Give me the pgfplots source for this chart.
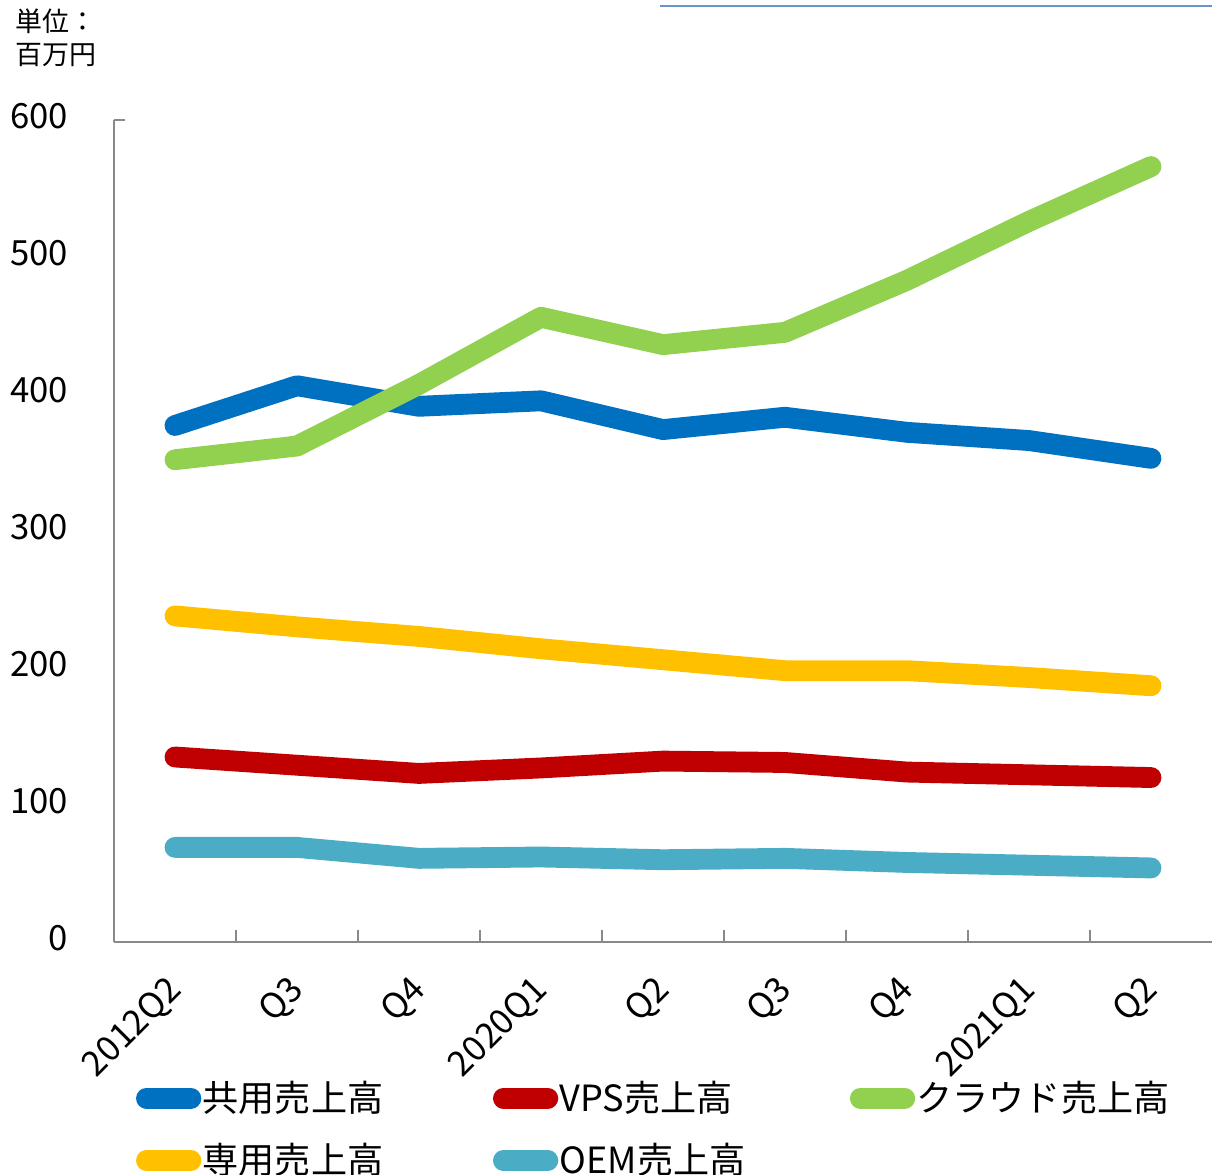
\documentclass[border=0pt]{standalone}
\usepackage{fontspec}
\setmainfont{Noto Sans CJK JP}
\usepackage{pgfplots}
\pgfplotsset{compat=1.18}
\definecolor{cBlue}{HTML}{0070C0}
\definecolor{cRed}{HTML}{C00000}
\definecolor{cGreen}{HTML}{92D050}
\definecolor{cYellow}{HTML}{FFC000}
\definecolor{cTeal}{HTML}{4BACC6}
\definecolor{cAxis}{HTML}{898989}
\definecolor{cDeco}{HTML}{6A93C6}
\begin{document}
\begin{tikzpicture}
\begin{axis}[
  name=a,
  scale only axis,
  width=395.3pt, height=295.9pt,
  xmin=-0.5, xmax=8.5, ymin=0, ymax=600,
  axis x line=bottom, axis y line=left,
  axis line style={draw=cAxis, line width=0.7pt, -},
  xtick={0,...,8},
  xticklabels={2012Q2,Q3,Q4,2020Q1,Q2,Q3,Q4,2021Q1,Q2},
  major x tick style={draw=none},
  minor xtick={0.5,1.5,...,7.5},
  minor tick length=4.3pt,
  minor x tick style={draw=cAxis, line width=0.7pt},
  ytick={0,100,...,600},
  major y tick style={draw=none},
  extra y ticks={600}, extra y tick labels={},
  extra y tick style={major tick length=4pt, major y tick style={draw=cAxis, line width=0.7pt}},
  tick align=inside,
  /pgf/number format/assume math mode=true,
  ticklabel style={font=\fontsize{12.5}{15}\selectfont, text=black},
  yticklabel style={xshift=-13pt, yshift=1.5pt},
  xticklabel style={xshift=3pt, yshift=-13pt, rotate=45, anchor=east},
  legend columns=3,
  legend style={at={(0.012,-0.16)}, anchor=north west, draw=none, fill=none,
    font=\fontsize{13}{15}\selectfont, row sep=9pt,
    /tikz/every even column/.append style={column sep=0pt},
    nodes={inner sep=0.5pt}},
  legend cell align=left,
  legend image code/.code={\draw[line width=7.5pt, line cap=round, #1] (0pt,0pt) -- (16pt,0pt);},
  line join=round,
  clip=false,
]
\addplot[cBlue, line width=7.5pt, line cap=round] coordinates {(0,377) (1,406) (2,391) (3,395) (4,374) (5,383) (6,372) (7,366) (8,353)};
\addlegendentry{\makebox[104pt][l]{共用売上高}}
\addplot[cRed, line width=7.5pt, line cap=round] coordinates {(0,135) (1,129) (2,123) (3,127) (4,132) (5,131) (6,124) (7,122) (8,120)};
\addlegendentry{\makebox[104pt][l]{VPS売上高}}
\addplot[cGreen, line width=7.5pt, line cap=round] coordinates {(0,352) (1,362) (2,407) (3,456) (4,436) (5,445) (6,483) (7,526) (8,566)};
\addlegendentry{\makebox[104pt][l]{クラウド売上高}}
\addplot[cYellow, line width=7.5pt, line cap=round] coordinates {(0,238) (1,230) (2,223) (3,214) (4,206) (5,198) (6,198) (7,193) (8,187)};
\addlegendentry{\makebox[104pt][l]{専用売上高}}
\addplot[cTeal, line width=7.5pt, line cap=round] coordinates {(0,69) (1,69) (2,61) (3,62) (4,60) (5,61) (6,58) (7,56) (8,54)};
\addlegendentry{\makebox[104pt][l]{OEM売上高}}
\draw[cDeco, line width=0.8pt] ([yshift=41pt]rel axis cs:0.497,1) -- ([yshift=41pt]rel axis cs:1,1);
\node[anchor=north west, align=left, font=\fontsize{9.7}{11.9}\selectfont, inner sep=0pt]
  at ([xshift=-35.6pt, yshift=40.3pt]rel axis cs:0,1) {単位：\\百万円};
\end{axis}
\pgfresetboundingbox
\path ([xshift=-41.04pt, yshift=-83.88pt]a.south west) rectangle ([yshift=43.2pt]a.north east);
\end{tikzpicture}
\end{document}
